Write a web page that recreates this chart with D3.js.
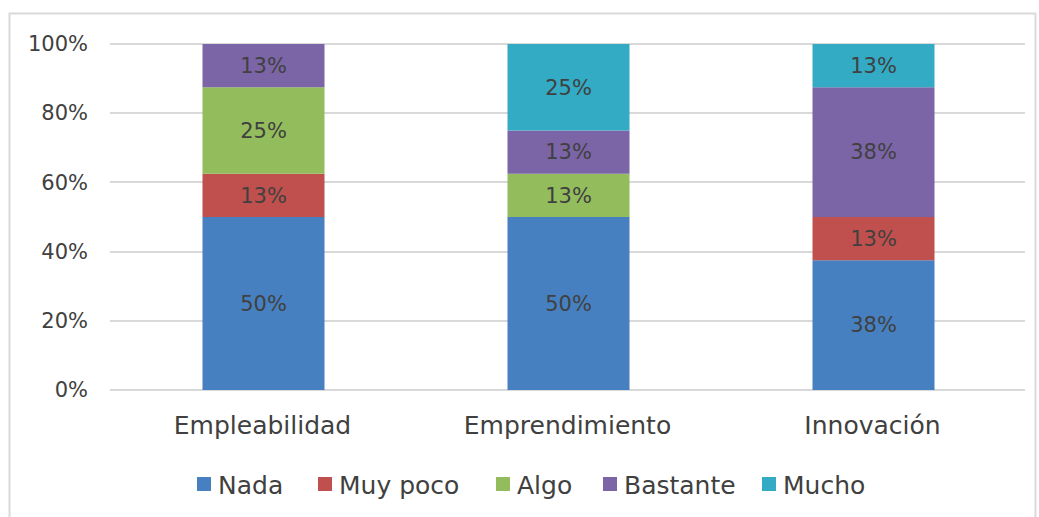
<!DOCTYPE html>
<html lang="es">
<head>
<meta charset="utf-8">
<title>Stacked bars</title>
<script src="https://cdn.jsdelivr.net/npm/d3@7"></script>
<style>
body { margin:0; background:#fff; }
svg { display:block; font-family: 'DejaVu Sans', sans-serif; }
.grid line { stroke:#d9d9d9; stroke-width:2px; shape-rendering:crispEdges; }
.axis text { fill:#404040; font-size:21px; font-family: 'DejaVu Sans', sans-serif; }
.axis--x text { font-size:25px; }
.lbl { fill:#404040; font-size:21px; }
.legend text { fill:#404040; font-size:25px; }
</style>
</head>
<body>
<svg width="1039" height="517"></svg>
<script>
var categories = ["Empleabilidad", "Emprendimiento", "Innovación"];
var seriesNames = ["Nada", "Muy poco", "Algo", "Bastante", "Mucho"];
var colours = ["#4680c0", "#c0504d", "#93bd5c", "#7b65a7", "#33abc4"];
// share of answers per category (8 respondents, so steps of 12.5%)
var nada     = [50, 50, 37.5];
var muyPoco  = [12.5, 0, 12.5];
var algo     = [25, 12.5, 0];
var bastante = [12.5, 12.5, 37.5];
var mucho    = [0, 25, 12.5];
var yTicks = [0, 20, 40, 60, 80, 100];

var svg = d3.select("svg");
var margin = {top: 44, left: 110, right: 14, bottom: 127};
var width = 1039 - margin.left - margin.right,
    height = 517 - margin.top - margin.bottom;

// chart frame
svg.append("rect")
  .attr("x", 9.5).attr("y", 13.5)
  .attr("width", 1026).attr("height", 520)
  .attr("fill", "none").attr("stroke", "#d9d9d9").attr("stroke-width", 2);

var table = categories.map(function(c, i) {
  return {cat: c, "Nada": nada[i], "Muy poco": muyPoco[i], "Algo": algo[i], "Bastante": bastante[i], "Mucho": mucho[i]};
});
var stacked = d3.stack().keys(seriesNames)(table);

var x = d3.scaleBand().domain(categories).range([0, width]).paddingInner(0.6).paddingOuter(0.3);
var y = d3.scaleLinear().domain([0, 100]).range([height, 0]);

var g = svg.append("g").attr("transform", "translate(" + margin.left + "," + margin.top + ")");

g.append("g").attr("class", "grid")
  .selectAll("line").data(yTicks).enter().append("line")
  .attr("x1", 0).attr("x2", width)
  .attr("y1", function(d) { return Math.round(y(d)); })
  .attr("y2", function(d) { return Math.round(y(d)); });

var yAxis = g.append("g").attr("class", "axis axis--y")
  .call(d3.axisLeft(y).tickValues(yTicks).tickSize(0).tickPadding(22).tickFormat(function(d) { return d + "%"; }));
yAxis.select(".domain").remove();

var xAxis = g.append("g").attr("class", "axis axis--x")
  .attr("transform", "translate(0," + height + ")")
  .call(d3.axisBottom(x).tickSize(0).tickPadding(26));
xAxis.select(".domain").remove();

var layer = g.selectAll(".layer").data(stacked).enter().append("g")
  .attr("class", "layer")
  .attr("fill", function(d, i) { return colours[i]; });

layer.selectAll("rect").data(function(d) { return d; }).enter().append("rect")
  .attr("x", function(d) { return x(d.data.cat) + 1; })
  .attr("width", x.bandwidth())
  .attr("y", function(d) { return y(d[1]); })
  .attr("height", function(d) { return y(d[0]) - y(d[1]); });

layer.selectAll("text").data(function(d) { return d.filter(function(e) { return e[1] - e[0] > 0; }); })
  .enter().append("text")
  .attr("class", "lbl")
  .attr("text-anchor", "middle")
  .attr("dy", "0.35em")
  .attr("x", function(d) { return x(d.data.cat) + x.bandwidth() / 2 + 1; })
  .attr("y", function(d) { return (y(d[0]) + y(d[1])) / 2; })
  .text(function(d) { return Math.round(d[1] - d[0]) + "%"; });

// legend
var legendX = [197, 318, 496, 603, 762];
var legend = svg.append("g").attr("class", "legend")
  .selectAll("g").data(seriesNames).enter().append("g")
  .attr("transform", function(d, i) { return "translate(" + legendX[i] + ",477)"; });
legend.append("rect").attr("width", 14).attr("height", 14)
  .attr("fill", function(d, i) { return colours[i]; });
legend.append("text").attr("x", 21).attr("y", 8).attr("dy", "0.35em").text(function(d) { return d; });
</script>
</body>
</html>
